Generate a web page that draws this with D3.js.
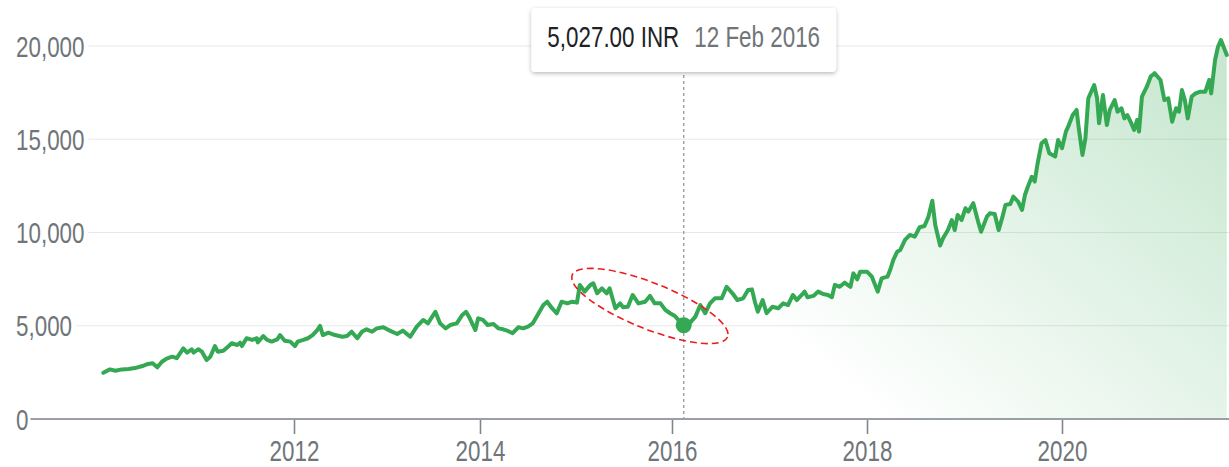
<!DOCTYPE html>
<html>
<head>
<meta charset="utf-8">
<script src="https://cdn.jsdelivr.net/npm/d3@7"></script>
<style>
  body { margin: 0; background: #fff; }
  svg { display: block; }
</style>
</head>
<body>
<svg id="chart" width="1229" height="467"></svg>
<script>
// Price history (decimal years, INR)
const years = [
  2009.95, 2010.02, 2010.08, 2010.15, 2010.22, 2010.29, 2010.37, 2010.43, 2010.48, 2010.53,
  2010.58, 2010.63, 2010.69, 2010.74, 2010.81, 2010.85, 2010.90, 2010.92, 2010.97, 2011.01,
  2011.06, 2011.10, 2011.15, 2011.18, 2011.24, 2011.29, 2011.33, 2011.39, 2011.42, 2011.44,
  2011.49, 2011.55, 2011.60, 2011.61, 2011.67, 2011.71, 2011.76, 2011.82, 2011.85, 2011.90,
  2011.96, 2012.01, 2012.04, 2012.10, 2012.15, 2012.20, 2012.25, 2012.28, 2012.31, 2012.37,
  2012.44, 2012.52, 2012.57, 2012.62, 2012.68, 2012.73, 2012.78, 2012.84, 2012.89, 2012.96,
  2013.03, 2013.11, 2013.17, 2013.25, 2013.32, 2013.39, 2013.44, 2013.52, 2013.57, 2013.63,
  2013.68, 2013.75, 2013.81, 2013.85, 2013.89, 2013.95, 2013.98, 2014.03, 2014.08, 2014.14,
  2014.19, 2014.24, 2014.29, 2014.34, 2014.40, 2014.45, 2014.50, 2014.55, 2014.60, 2014.66,
  2014.70, 2014.75, 2014.80, 2014.85, 2014.91, 2014.96, 2015.01, 2015.04, 2015.09, 2015.15,
  2015.18, 2015.22, 2015.27, 2015.32, 2015.35, 2015.41, 2015.46, 2015.49, 2015.54, 2015.59,
  2015.65, 2015.72, 2015.77, 2015.82, 2015.88, 2015.93, 2015.98, 2016.03, 2016.08, 2016.12,
  2016.18, 2016.24, 2016.29, 2016.34, 2016.39, 2016.44, 2016.51, 2016.56, 2016.62, 2016.67,
  2016.73, 2016.78, 2016.82, 2016.85, 2016.88, 2016.93, 2016.97, 2017.03, 2017.09, 2017.14,
  2017.19, 2017.24, 2017.28, 2017.33, 2017.36, 2017.39, 2017.45, 2017.50, 2017.55, 2017.60,
  2017.64, 2017.67, 2017.72, 2017.77, 2017.83, 2017.86, 2017.90, 2017.93, 2018.00, 2018.05,
  2018.11, 2018.15, 2018.21, 2018.24, 2018.27, 2018.31, 2018.34, 2018.39, 2018.44, 2018.49,
  2018.54, 2018.59, 2018.63, 2018.67, 2018.70, 2018.75, 2018.78, 2018.83, 2018.87, 2018.90,
  2018.93, 2018.97, 2019.01, 2019.04, 2019.09, 2019.14, 2019.17, 2019.23, 2019.26, 2019.31,
  2019.35, 2019.39, 2019.42, 2019.47, 2019.50, 2019.55, 2019.59, 2019.62, 2019.65, 2019.69,
  2019.72, 2019.75, 2019.79, 2019.83, 2019.87, 2019.93, 2019.96, 2020.00, 2020.04, 2020.07,
  2020.11, 2020.15, 2020.17, 2020.21, 2020.24, 2020.27, 2020.33, 2020.36, 2020.38, 2020.42,
  2020.46, 2020.49, 2020.54, 2020.57, 2020.61, 2020.64, 2020.67, 2020.71, 2020.74, 2020.77,
  2020.79, 2020.82, 2020.87, 2020.91, 2020.95, 2021.01, 2021.05, 2021.09, 2021.13, 2021.17,
  2021.20, 2021.23, 2021.26, 2021.29, 2021.33, 2021.37, 2021.42, 2021.47, 2021.51, 2021.53,
  2021.57, 2021.60, 2021.63, 2021.67, 2021.69
];
const prices = [
  2480, 2660, 2590, 2660, 2680, 2730, 2840, 2950, 2990, 2770,
  3070, 3240, 3340, 3260, 3790, 3560, 3740, 3560, 3740, 3610,
  3160, 3340, 3910, 3610, 3660, 3880, 4060, 3970, 4090, 3910,
  4330, 4240, 4330, 4110, 4450, 4240, 4150, 4270, 4500, 4200,
  4150, 3910, 4150, 4240, 4330, 4500, 4770, 4990, 4500, 4630,
  4500, 4410, 4450, 4680, 4330, 4680, 4810, 4680, 4860, 4920,
  4740, 4560, 4740, 4410, 4950, 5310, 5130, 5750, 5130, 4860,
  5040, 5130, 5580, 5750, 5400, 4770, 5400, 5310, 5040, 5090,
  4860, 4810, 4720, 4600, 4920, 4860, 4950, 5130, 5580, 6110,
  6290, 5940, 5670, 6290, 6200, 6290, 6240, 7190, 6830, 7190,
  7280, 6740, 7010, 6740, 7010, 5940, 6200, 5990, 6020, 6650,
  6200, 6290, 6600, 6200, 6200, 5850, 5670, 5520, 5220, 5027,
  5130, 5490, 6110, 5670, 6200, 6470, 6470, 7090, 6740, 6380,
  6470, 6920, 6950, 6290, 5750, 6380, 5670, 6020, 5940, 6200,
  6110, 6650, 6380, 6650, 6830, 6530, 6600, 6830, 6700, 6650,
  6530, 7190, 7090, 7310, 7090, 7810, 7490, 7900, 7900, 7630,
  6830, 7540, 7630, 8030, 8530, 8970, 9060, 9600, 9870, 9780,
  10280, 10350, 10850, 11700, 10400, 9300, 9690, 10130, 10670, 10130,
  10940, 10670, 11300, 11120, 11570, 10580, 10040, 10850, 11030, 10990,
  10130, 10850, 11480, 11530, 11920, 11650, 11210, 12010, 12460, 12990,
  12730, 13710, 14780, 14960, 14250, 14070, 14960, 14520, 15410, 15760,
  16300, 16570, 15670, 14160, 15050, 17200, 17910, 17200, 15860, 17370,
  15760, 16570, 17100, 16480, 16660, 16120, 16300, 15860, 15500, 16030,
  15410, 17290, 17820, 18360, 18540, 18180, 17100, 17200, 15940, 16660,
  16480, 17640, 17100, 16120, 17290, 17460, 17550, 17550, 18180, 17460,
  19250, 19960, 20320, 19790, 19520
];
const yTicks = [0, 5000, 10000, 15000, 20000];
const xTicks = [2012, 2014, 2016, 2018, 2020];

// hovered point shown in the tooltip
const hoverYear = 2016.12;
const hoverPrice = 5027;
const hoverDate = "12 Feb 2016";
const currency = "INR";

// the red ring drawn round the 2015 slide (start and end of its long axis)
const ringFrom = [2014.96, 7720];
const ringTo = [2016.57, 4400];

const W = 1229, H = 467;
const FONT = '"Liberation Sans", Arial, sans-serif';
const FONT_SIZE = "22.4px";
const GREEN = "#34a853";
const LABEL_GREY = "#70757a";
const TEXT_STRETCH = "scale(1,1.29)"; // glyphs in the picture are taller than wide

const svg = d3.select("#chart");

// year axis is slightly uneven in the picture, so map each even year to its own spot
const x = d3.scaleLinear()
  .domain([2010, 2012, 2014, 2016, 2018, 2020, 2022])
  .range([108, 294, 480, 672, 867, 1062, 1257]);
const y = d3.scaleLinear().domain([0, 20000]).range([419, 46]);

const series = years.map((yr, i) => ({ yr, v: prices[i] }));

// Defs: area gradient + tooltip shadow
const defs = svg.append("defs");
const grad = defs.append("linearGradient")
  .attr("id", "areaFill")
  .attr("gradientUnits", "userSpaceOnUse")
  .attr("x1", 880).attr("y1", y(0))
  .attr("x2", 1180).attr("y2", y(19500));
grad.append("stop").attr("offset", 0).attr("stop-color", GREEN).attr("stop-opacity", 0);
grad.append("stop").attr("offset", 1).attr("stop-color", GREEN).attr("stop-opacity", 0.27);

const shadow = defs.append("filter").attr("id", "tipShadow")
  .attr("x", "-10%").attr("y", "-20%").attr("width", "120%").attr("height", "160%");
shadow.append("feDropShadow")
  .attr("dx", 0).attr("dy", 1.5).attr("stdDeviation", 2)
  .attr("flood-color", "#000").attr("flood-opacity", 0.28);

// Y labels (left aligned at the far left)
const yAxis = svg.append("g")
  .attr("transform", "translate(16,0)")
  .call(d3.axisRight(y).tickValues(yTicks).tickFormat(d3.format(",")).tickSize(0).tickPadding(0));
yAxis.select(".domain").remove();
yAxis.selectAll("text")
  .attr("x", 0)
  .attr("dy", null)
  .attr("transform", "translate(0,10) " + TEXT_STRETCH)
  .attr("fill", LABEL_GREY)
  .style("font-family", FONT)
  .style("font-size", FONT_SIZE);

// gridlines start just after each label
const gridLayer = svg.insert("g", ":first-child");
yAxis.selectAll(".tick").each(function(d) {
  const len = d3.select(this).select("text").node().getComputedTextLength();
  if (d === 0) return;
  gridLayer.append("line")
    .attr("x1", 16 + len + 4).attr("x2", W)
    .attr("y1", y(d)).attr("y2", y(d))
    .attr("stroke", "#e8e8e8")
    .attr("stroke-width", 1.2);
});

// Area and line
svg.append("path")
  .datum(series)
  .attr("fill", "url(#areaFill)")
  .attr("d", d3.area().x(d => x(d.yr)).y0(y(0)).y1(d => y(d.v)));

svg.append("path")
  .datum(series)
  .attr("fill", "none")
  .attr("stroke", GREEN)
  .attr("stroke-width", 4)
  .attr("stroke-linejoin", "round")
  .attr("stroke-linecap", "round")
  .attr("d", d3.line().x(d => x(d.yr)).y(d => y(d.v)));

// X axis
const xAxis = svg.append("g")
  .attr("transform", `translate(0,${y(0)})`)
  .call(d3.axisBottom(x).tickValues(xTicks).tickFormat(d3.format("d")).tickSizeInner(15).tickSizeOuter(0));
xAxis.select(".domain").remove();
xAxis.selectAll(".tick line").attr("stroke", "#80868b").attr("stroke-width", 1.6);
xAxis.selectAll(".tick text")
  .attr("y", 0)
  .attr("dy", null)
  .attr("transform", "translate(0,42) " + TEXT_STRETCH)
  .attr("fill", LABEL_GREY)
  .style("font-family", FONT)
  .style("font-size", FONT_SIZE);

// base line, starting right after the "0" label
const zeroLen = yAxis.selectAll(".tick text").filter(d => d === 0).node().getComputedTextLength();
svg.append("line")
  .attr("x1", 16 + zeroLen + 2).attr("x2", W)
  .attr("y1", y(0)).attr("y2", y(0))
  .attr("stroke", "#9aa0a6")
  .attr("stroke-width", 2.2);

// Hover marker
const hx = x(hoverYear);
svg.append("line")
  .attr("x1", hx).attr("x2", hx)
  .attr("y1", 75).attr("y2", y(0))
  .attr("stroke", "#9aa0a6")
  .attr("stroke-width", 1.4)
  .attr("stroke-dasharray", "3,3");

svg.append("circle")
  .attr("cx", hx).attr("cy", y(hoverPrice))
  .attr("r", 8)
  .attr("fill", GREEN);

// Red dashed ring
const p1 = [x(ringFrom[0]), y(ringFrom[1])];
const p2 = [x(ringTo[0]), y(ringTo[1])];
const cx = (p1[0] + p2[0]) / 2, cy = (p1[1] + p2[1]) / 2;
const rx = Math.hypot(p2[0] - p1[0], p2[1] - p1[1]) / 2;
const angle = Math.atan2(p2[1] - p1[1], p2[0] - p1[0]) * 180 / Math.PI;
svg.append("ellipse")
  .attr("cx", cx).attr("cy", cy)
  .attr("rx", rx).attr("ry", 23)
  .attr("transform", `rotate(${angle},${cx},${cy})`)
  .attr("fill", "none")
  .attr("stroke", "#ee1c1c")
  .attr("stroke-width", 1.6)
  .attr("stroke-dasharray", "7,4");

// Tooltip
const tip = svg.append("g");
const tipBox = tip.append("rect")
  .attr("y", 8).attr("height", 64)
  .attr("rx", 4)
  .attr("fill", "#fff")
  .attr("filter", "url(#tipShadow)");
const valueText = tip.append("text")
  .attr("fill", "#202124")
  .style("font-family", FONT)
  .style("font-size", FONT_SIZE)
  .text(d3.format(",.2f")(hoverPrice) + " " + currency);
const dateText = tip.append("text")
  .attr("fill", LABEL_GREY)
  .style("font-family", FONT)
  .style("font-size", FONT_SIZE)
  .text(hoverDate);

const pad = 16, gap = 15;
const vLen = valueText.node().getComputedTextLength();
const dLen = dateText.node().getComputedTextLength();
const boxW = pad + vLen + gap + dLen + pad;
const boxX = hx - boxW / 2;
tipBox.attr("x", boxX).attr("width", boxW);
valueText.attr("transform", `translate(${boxX + pad},47) ${TEXT_STRETCH}`);
dateText.attr("transform", `translate(${boxX + pad + vLen + gap},47) ${TEXT_STRETCH}`);
</script>
</body>
</html>
